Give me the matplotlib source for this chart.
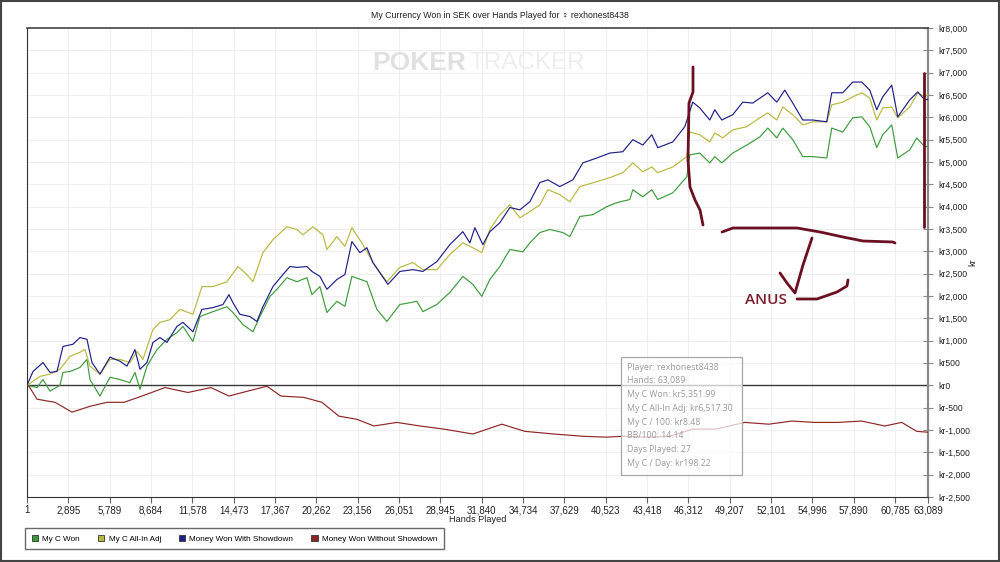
import matplotlib
matplotlib.use("Agg")
import matplotlib.pyplot as plt
from matplotlib.patches import Rectangle, Patch
from matplotlib.lines import Line2D
from matplotlib.ticker import FuncFormatter

# ---------------- data ----------------
won_hands = [1, 700, 1120, 1610, 2310, 2520, 3010, 3710, 4200, 4410, 5110, 5810, 6510, 7210, 7560,
             7910, 8400, 9100, 9800, 10500, 10920, 11620, 12110, 13020, 14000, 14420, 15120, 15820,
             16310, 17010, 17500, 18200, 18900, 19600, 19950, 20510, 21000, 21700, 22260, 22750,
             23800, 24500, 25200, 26110, 26810, 27300, 27720, 28700, 29610, 30520, 31220, 31850,
             32410, 33110, 33810, 34720, 35210, 35910, 36610, 37520, 38010, 38710, 39620, 40600,
             41300, 42210, 42420, 43120, 43750, 44170, 45220, 46200, 46410, 47110, 47810, 48160,
             48650, 49420, 50400, 51310, 51870, 52500, 52920, 53620, 54320, 55020, 56000, 56350,
             57120, 57820, 58450, 59010, 59500, 59920, 60550, 60970, 61810, 62300, 62860, 63089]
won_vals = [0, -50, 130, -130, 0, 290, 310, 400, 580, 130, -240, 180, 130, 60, 290,
            -90, 430, 800, 1030, 1180, 1320, 980, 1540, 1650, 1760, 1630, 1360, 1200,
            1540, 1990, 2150, 2410, 2320, 2410, 2030, 2210, 1630, 1880, 1770, 2440,
            2320, 1700, 1430, 1810, 1850, 1880, 1650, 1810, 2080, 2440, 2260, 1990,
            2370, 2660, 3040, 2990, 3190, 3420, 3490, 3420, 3330, 3780, 3820, 4000,
            4090, 4160, 4380, 4220, 4380, 4160, 4310, 4670, 5160, 5200, 4980, 5120,
            4980, 5200, 5380, 5560, 5760, 5540, 5760, 5500, 5120, 5120, 5090, 5760,
            5670, 5990, 6010, 5790, 5320, 5610, 5830, 5090, 5270, 5540, 5340, 5352]

adj_hands = [1, 420, 910, 1610, 2310, 3010, 3710, 4060, 4410, 5110, 5810, 6510, 7210, 7700, 8120,
             8820, 9310, 10010, 10710, 11620, 12250, 13020, 14000, 14770, 15400, 15820, 16520,
             17220, 18200, 18900, 19320, 20020, 20720, 21000, 21700, 22260, 22750, 23520, 24220,
             25200, 26110, 27020, 27720, 28700, 29610, 30520, 31220, 31850, 32410, 33110, 33810,
             34510, 35210, 35910, 36470, 37310, 38010, 38710, 39900, 40810, 41720, 42420, 43120,
             43750, 44170, 45220, 46200, 46410, 47110, 47810, 48160, 48720, 49420, 50400, 51310,
             51870, 52500, 52920, 53620, 54320, 55020, 56000, 56350, 57120, 57820, 58450, 59010,
             59500, 59920, 60550, 60970, 61810, 62370, 62860, 63089]
adj_vals = [0, 90, 200, 250, 360, 650, 740, 800, 430, 250, 580, 580, 510, 760, 580,
            1250, 1410, 1470, 1700, 1590, 2210, 2210, 2320, 2660, 2480, 2320, 2970,
            3260, 3550, 3490, 3370, 3550, 3370, 3040, 3330, 3110, 3530, 3150, 2750,
            2320, 2640, 2750, 2590, 2590, 2930, 3190, 3080, 2970, 3490, 3820, 4040,
            3750, 3890, 4040, 4380, 4270, 4110, 4450, 4560, 4650, 4760, 4980, 4780,
            4890, 4760, 4890, 5120, 5670, 5610, 5450, 5650, 5540, 5720, 5790, 5990,
            6100, 5940, 6230, 6060, 5830, 5900, 5900, 6280, 6340, 6460, 6550, 6430,
            5940, 6210, 6230, 5990, 6230, 6550, 6460, 6517]

sd_hands = [1, 420, 1120, 1610, 2100, 2520, 3220, 3710, 4200, 4550, 5110, 5810, 6510, 7000, 7560,
            7910, 8400, 8820, 9310, 9800, 10500, 10920, 11620, 12250, 13020, 13720, 14140, 14420,
            14910, 15610, 16100, 16520, 17220, 17920, 18410, 18900, 19600, 19950, 20510, 21000,
            21700, 22260, 22750, 23310, 23800, 24220, 24710, 25270, 26110, 27020, 27720, 28700,
            29610, 30520, 31010, 31360, 31920, 32410, 33110, 33810, 34510, 35210, 35910, 36470,
            37310, 38220, 38920, 39900, 40810, 41720, 42420, 43120, 43750, 44170, 45220, 46060,
            46620, 47110, 47810, 48160, 48650, 49420, 50120, 50820, 51870, 52500, 53060, 53620,
            54320, 55020, 56000, 56350, 57120, 57820, 58450, 59010, 59500, 59920, 60550, 60970,
            61810, 62370, 62860, 63089]
sd_vals = [0, 310, 510, 290, 310, 870, 920, 1070, 1030, 510, 250, 630, 540, 430, 800,
           360, 510, 960, 1070, 960, 1320, 1410, 1200, 1700, 1740, 1810, 2030, 1850,
           1590, 1540, 1430, 1760, 2210, 2480, 2660, 2640, 2660, 2550, 2440, 2150,
           2370, 2480, 3220, 2970, 3080, 2750, 2520, 2260, 2550, 2590, 2550, 2770,
           3150, 3440, 3190, 3530, 3150, 3440, 3640, 3980, 3930, 4110, 4540, 4600,
           4450, 4600, 4980, 5090, 5200, 5230, 5500, 5380, 5610, 5320, 5450, 5790,
           6340, 6210, 5940, 6170, 5940, 6060, 6340, 6320, 6550, 6340, 6610, 6320,
           5940, 5940, 5900, 6550, 6550, 6790, 6790, 6610, 6170, 6460, 6720, 6010,
           6390, 6570, 6390, 6404]

nsd_hands = [1, 140, 700, 1960, 3150, 4410, 5600, 6790, 8050, 9660, 11270, 12880, 14140, 15330,
             16800, 17780, 19390, 20650, 21840, 23100, 24290, 25900, 27510, 29190, 31220, 33250,
             34860, 36890, 38920, 40530, 41790, 43400, 45010, 46620, 48230, 50260, 51940, 53550,
             55160, 56770, 58450, 60060, 61250, 62300, 63089]
nsd_vals = [0, -20, -310, -380, -600, -470, -380, -380, -240, -50, -160, -50, -240, -140,
            -20, -240, -270, -380, -690, -760, -910, -830, -910, -980, -1090, -870,
            -1030, -1090, -1140, -1160, -1140, -1160, -1140, -980, -980, -830, -870, -800,
            -830, -830, -800, -910, -830, -1030, -1050]

series_names = ["My C Won", "My C All-In Adj", "Money Won With Showdown", "Money Won Without Showdown"]
series_colors = ["#3c9c3c", "#b9b83e", "#1f1f8a", "#8e2626"]

x_ticks = [1, 2895, 5789, 8684, 11578, 14473, 17367, 20262, 23156, 26051, 28945, 31840,
           34734, 37629, 40523, 43418, 46312, 49207, 52101, 54996, 57890, 60785, 63089]
y_ticks = list(range(-2500, 8001, 500))

tooltip_lines = ["Player: rexhonest8438", "Hands: 63,089", "My C Won: kr5,351.99",
                 "My C All-In Adj: kr6,517.30", "My C / 100: kr8.48", "BB/100: 14.14",
                 "Days Played: 27", "My C / Day: kr198.22"]

# ---------------- figure ----------------
W, H = 1000, 562
fig = plt.figure(figsize=(W / 100, H / 100), dpi=100)
fig.patch.set_facecolor("white")
FONT = ["Liberation Sans", "DejaVu Sans"]

def fx(px):
    return px / W

def fy(py):
    return 1 - py / H

ax = fig.add_axes([fx(27), fy(497), fx(928) - fx(27), fy(28) - fy(497)])
ax.set_xlim(1, 63089)
ax.set_ylim(-2500, 8000)

for xs, ys, c in zip([won_hands, adj_hands, sd_hands, nsd_hands],
                     [won_vals, adj_vals, sd_vals, nsd_vals], series_colors):
    ax.plot(xs, ys, color=c, lw=0.85, zorder=3)

ax.axhline(0, color="#3a3a3a", lw=1.0, zorder=2)

ax.set_xticks(x_ticks)
ax.set_xticklabels([f"{v:,}" for v in x_ticks], fontsize=7, family=FONT, color="#222222")
ax.set_yticks(y_ticks)
ax.yaxis.set_major_formatter(FuncFormatter(lambda v, p: f"kr{v:,.0f}"))
ax.yaxis.tick_right()
ax.yaxis.set_label_position("right")
for lab in ax.get_yticklabels():
    lab.set_family(FONT)
ax.tick_params(axis="y", labelsize=6.2, direction="inout", length=7, color="#888888",
               labelcolor="#222222", pad=4)
ax.tick_params(axis="x", direction="out", length=4, color="#666666", pad=2)
ax.grid(True, color="#efefef", lw=0.8, zorder=0)
ax.set_axisbelow(True)

ax.spines["top"].set_color("#444444")
ax.spines["top"].set_linewidth(1.2)
ax.spines["left"].set_color("#333333")
ax.spines["bottom"].set_color("#333333")
ax.spines["right"].set_color("#8a8a8a")
ax.spines["right"].set_linewidth(1.6)

ax.set_xlabel("Hands Played", fontsize=6.6, family=FONT, labelpad=0, color="#222222")
ax.set_ylabel("kr", fontsize=6.6, family=FONT, color="#222222", rotation=90,
              va="center", ha="center")
ax.yaxis.set_label_coords((973 - 27) / 901, 0.5)

# title and outer frame
fig.text(0.5, fy(15), "My Currency Won in SEK over Hands Played for \u2640 rexhonest8438",
         ha="center", va="center", fontsize=6.3, family=FONT, color="#222222")
fig.add_artist(Rectangle((0.0005, 0.001), 0.998, 0.997, transform=fig.transFigure,
                         fill=False, edgecolor="#444444", lw=1.5))

# watermark
fig.text(fx(372), fy(63), "POKER", fontsize=19, fontweight="bold", family=FONT,
         color="#e0e0e0", va="center", ha="left", zorder=0.5)
fig.text(fx(470), fy(63), "TRACKER", fontsize=17.5, family=FONT,
         color="#eeeeee", va="center", ha="left", zorder=0.5)

# tooltip
fig.add_artist(Rectangle((fx(621), fy(475)), fx(742) - fx(621), fy(357) - fy(475),
                         transform=fig.transFigure, facecolor="white", alpha=0.72,
                         edgecolor="none", zorder=5))
fig.add_artist(Rectangle((fx(621), fy(475)), fx(742) - fx(621), fy(357) - fy(475),
                         transform=fig.transFigure, fill=False, edgecolor="#a8a8a8",
                         lw=0.9, zorder=6))
for i, t in enumerate(tooltip_lines):
    fig.text(fx(627), fy(367 + i * 13.8), t, fontsize=6.3, family=["Open Sans", "DejaVu Sans"],
             color="#9a9a9a", va="center", ha="left", zorder=7)

# legend
handles = [Patch(facecolor=c, edgecolor="#333333", lw=0.6) for c in series_colors]
leg = fig.legend(handles, series_names, loc="upper left",
                 bbox_to_anchor=(fx(25), fy(528)), ncol=4, frameon=True, fancybox=False,
                 prop={"family": FONT, "size": 5.9}, handlelength=0.8, handleheight=0.8,
                 handletextpad=0.5, columnspacing=2.2, borderpad=0.8, borderaxespad=0)
leg.get_frame().set_edgecolor("#444444")
leg.get_frame().set_linewidth(1.0)

# hand-drawn annotations
ink = "#6a1020"
strokes = [
    [(693, 67), (693, 92), (689, 103), (688, 160), (690, 187), (695, 200), (700, 210), (703, 225)],
    [(722, 232), (733, 228), (797, 228), (820, 232), (843, 237), (863, 241), (893, 242), (895, 243)],
    [(812, 238), (803, 265), (795, 293), (787, 283), (780, 273)],
    [(797, 299), (817, 299), (837, 292), (847, 286), (848, 280)],
    [(924, 73), (924, 227)],
]
for s in strokes:
    fig.add_artist(Line2D([fx(p[0]) for p in s], [fy(p[1]) for p in s],
                          transform=fig.transFigure, color=ink, lw=2.0,
                          solid_capstyle="round", solid_joinstyle="round", zorder=8))
fig.text(fx(766), fy(300), "ANUS", fontsize=11, family=["Open Sans", "DejaVu Sans"],
         fontweight="semibold", color="#7a1a2a", ha="center", va="center", zorder=8)

fig.savefig("out.png", dpi=100)
